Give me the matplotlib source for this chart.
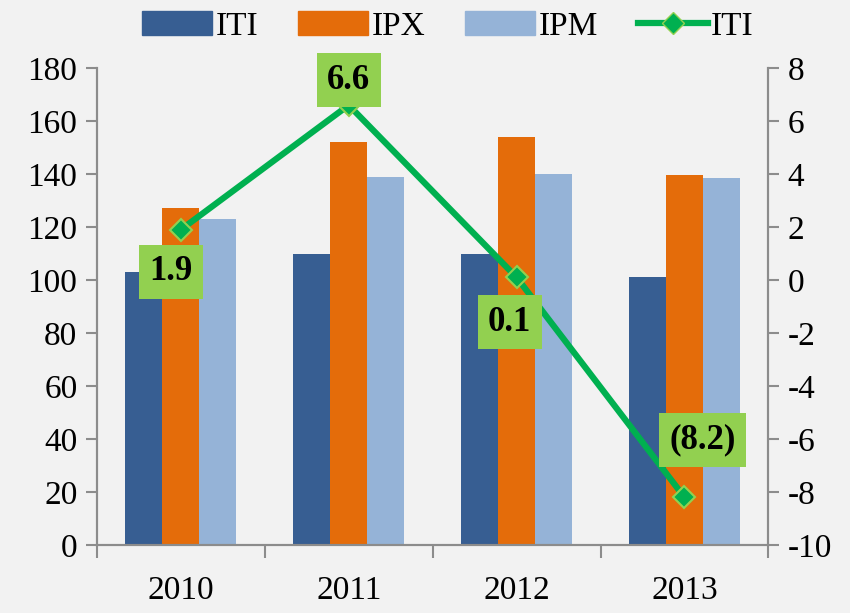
import matplotlib
matplotlib.use("Agg")
import matplotlib.pyplot as plt
import numpy as np
from matplotlib.patches import Patch
from matplotlib.lines import Line2D

plt.rcParams['font.family'] = ['Liberation Serif', 'DejaVu Serif']
plt.rcParams['axes.unicode_minus'] = False

years = ["2010", "2011", "2012", "2013"]
iti_bar = [103, 110, 110, 101]
ipx = [127, 152, 154, 139.5]
ipm = [123, 139, 140, 138.5]
iti_line = [1.9, 6.6, 0.1, -8.2]
line_labels = ["1.9", "6.6", "0.1", "(8.2)"]

c_iti = "#375E92"
c_ipx = "#E46C0A"
c_ipm = "#95B3D7"
c_line = "#00B050"
c_box = "#92D050"
c_spine = "#8C8C8C"

fig = plt.figure(figsize=(8.5, 6.13), dpi=100, facecolor="#F2F2F2")
ax = fig.add_axes([0.114, 0.111, 0.790, 0.778])
ax.set_facecolor("none")

x = np.arange(len(years))
w = 0.22
ax.bar(x - w, iti_bar, w, color=c_iti, zorder=2)
ax.bar(x, ipx, w, color=c_ipx, zorder=2)
ax.bar(x + w, ipm, w, color=c_ipm, zorder=2)

ax.set_xlim(-0.5, 3.5)
ax.set_ylim(0, 180)
ax.set_yticks(range(0, 181, 20))
ax.set_xticks(np.arange(-0.5, 3.6, 1))
ax.set_xticklabels([])
ax.set_xticks(x, minor=True)
ax.set_xticklabels(years, minor=True)
ax.tick_params(axis="x", which="major", length=9, width=1.5, color=c_spine, direction="out")
ax.tick_params(axis="x", which="minor", length=0, pad=22, labelsize=24)
ax.tick_params(axis="y", length=8, width=1.5, color=c_spine, direction="out", labelsize=24, pad=6)

ax.spines["top"].set_visible(False)
for s in ["left", "right", "bottom"]:
    ax.spines[s].set_color(c_spine)
    ax.spines[s].set_linewidth(1.5)

ax2 = ax.twinx()
ax2.set_ylim(-10, 8)
ax2.set_yticks(range(-10, 9, 2))
ax2.tick_params(axis="y", length=8, width=1.5, color=c_spine, direction="out", labelsize=24, pad=6)
ax2.spines["top"].set_visible(False)
for s in ["left", "right", "bottom"]:
    ax2.spines[s].set_color(c_spine)
    ax2.spines[s].set_linewidth(1.5)

ax2.plot(x, iti_line, color=c_line, lw=4.5, marker="D", markersize=11,
         markerfacecolor=c_line, markeredgecolor=c_box, markeredgewidth=1.5, zorder=3)

offsets = [(-10, -42), (0, 25), (-7, -45), (18, 57)]
for xi, yi, lab, off in zip(x, iti_line, line_labels, offsets):
    ax2.annotate(lab, (xi, yi), xytext=off, textcoords="offset pixels",
                 ha="center", va="center", fontsize=25, fontweight="bold",
                 bbox=dict(boxstyle="square,pad=0.3", fc=c_box, ec="none"), zorder=4)

handles = [Patch(color=c_iti), Patch(color=c_ipx), Patch(color=c_ipm),
           Line2D([], [], color=c_line, lw=4.5, marker="D", markersize=11,
                  markerfacecolor=c_line, markeredgecolor=c_box)]
fig.legend(handles, ["ITI", "IPX", "IPM", "ITI"], loc="center", bbox_to_anchor=(0.527, 0.957),
           ncol=4, frameon=False, fontsize=24, handlelength=2.1, handleheight=0.75,
           columnspacing=1.2, handletextpad=0.1)

fig.savefig("out.png", dpi=100, facecolor=fig.get_facecolor())
